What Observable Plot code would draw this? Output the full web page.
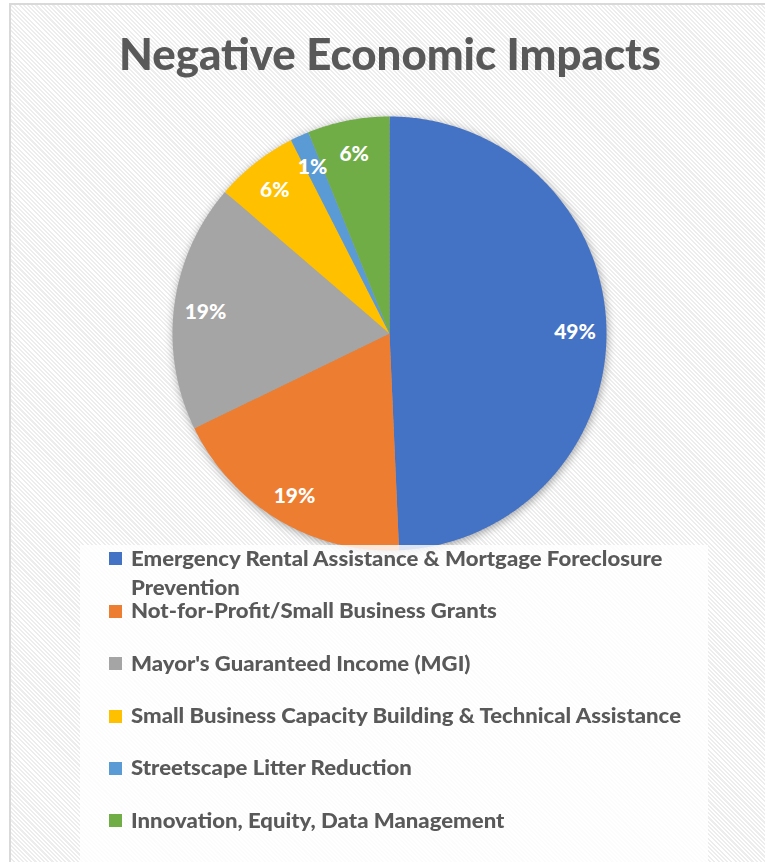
<!DOCTYPE html>
<html>
<head>
<meta charset="utf-8">
<script src="https://cdn.jsdelivr.net/npm/d3@7"></script>
<script src="https://cdn.jsdelivr.net/npm/@observablehq/plot@0.6"></script>
<style>
  html, body { margin: 0; padding: 0; width: 765px; height: 862px; overflow: hidden; background: #fff; }
  #frame {
    position: absolute; left: 9px; top: 3px; width: 820px; height: 920px;
    border-left: 2px solid #d9d9d9; border-top: 2px solid #d9d9d9;
    background: repeating-linear-gradient(45deg, #ffffff 0px, #ffffff 1.5px, #ededed 1.5px, #ededed 3px);
  }
  #title {
    position: absolute; left: 0; top: 32px; text-align: left;
    font-family: Lato, sans-serif; font-weight: 900; font-size: 43px; line-height: 1;
    color: #595959; white-space: nowrap; transform-origin: 0 0;
  }
  #chart { position: absolute; left: 0; top: 0; }
  #legend {
    position: absolute; left: 80px; top: 545px; width: 628px; height: 330px;
    background: rgba(255,255,255,0.82);
  }
  .item { position: absolute; left: 0; width: 628px; height: 60px; }
  .sw { position: absolute; left: 29px; top: 8.5px; width: 13px; height: 13px; }
  .lab {
    position: absolute; left: 50.7px; top: 0;
    font-family: Lato, sans-serif; font-weight: 900; font-size: 20px; line-height: 29px;
    color: #595959; white-space: normal; transform-origin: 0 0;
  }
  #measure { position: absolute; visibility: hidden; white-space: nowrap; font-family: Lato, sans-serif; font-weight: 900; }
</style>
</head>
<body>
<div id="frame"></div>
<div id="chart"></div>
<div id="title"></div>
<div id="legend"></div>
<span id="measure"></span>
<script>
// ---- data ----
const chartTitle = "Negative Economic Impacts";
const categories = [
  "Emergency Rental Assistance & Mortgage Foreclosure Prevention",
  "Not-for-Profit/Small Business Grants",
  "Mayor's Guaranteed Income (MGI)",
  "Small Business Capacity Building & Technical Assistance",
  "Streetscape Litter Reduction",
  "Innovation, Equity, Data Management"
];
const values = [49.3, 18.5, 18.5, 6.2, 1.4, 6.1];
const colors = ["#4472C4", "#ED7D31", "#A5A5A5", "#FFC000", "#5B9BD5", "#70AD47"];

// ---- build slice outlines from the values ----
const total = d3.sum(values);
const pts = [];
const labels = [];
let acc = 0;
values.forEach((v, i) => {
  const a0 = acc / total * 2 * Math.PI;
  acc += v;
  const a1 = acc / total * 2 * Math.PI;
  pts.push({cat: categories[i], x: 0, y: 0});
  const n = Math.max(2, Math.ceil((a1 - a0) / (Math.PI / 360)));
  for (let k = 0; k <= n; k++) {
    const a = a0 + (a1 - a0) * k / n;
    pts.push({cat: categories[i], x: Math.sin(a), y: Math.cos(a)});
  }
  pts.push({cat: categories[i], x: 0, y: 0});
  const am = (a0 + a1) / 2;
  const lr = 0.855;
  labels.push({cat: categories[i], x: lr * Math.sin(am), y: lr * Math.cos(am), text: Math.round(v / total * 100) + "%"});
});

const plot = Plot.plot({
  width: 765,
  height: 862,
  margin: 0,
  style: {background: "transparent", overflow: "visible"},
  x: {domain: [-1, 1], range: [172, 606], axis: null},
  y: {domain: [-1, 1], range: [550, 116], axis: null},
  color: {domain: categories, range: colors},
  marks: [
    Plot.line(pts, {x: "x", y: "y", z: "cat", fill: "cat", stroke: "none"}),
    Plot.text(labels, {x: "x", y: "y", dy: 3, text: "text", fill: "white", fontSize: 21, fontWeight: 900, fontFamily: "Lato, sans-serif"})
  ]
});
document.getElementById("chart").appendChild(plot);
const lineG = plot.querySelector('g[aria-label="line"]');
if (lineG) lineG.style.filter = "drop-shadow(1px 2px 4px rgba(0,0,0,0.35))";

// title, scaled to the reference's width and centred
const title = document.getElementById("title");
title.textContent = chartTitle;
const tw = title.getBoundingClientRect().width;
const tTarget = 542, tCenter = 390;
const tf = tTarget / tw;
title.style.transform = `scaleX(${tf})`;
title.style.left = (tCenter - tTarget / 2) + "px";

// legend
const meas = document.getElementById("measure");
meas.style.fontSize = "20px";
meas.textContent = categories[3];
const lf = 550 / meas.getBoundingClientRect().width;
const legend = document.getElementById("legend");
categories.forEach((c, i) => {
  const item = document.createElement("div");
  item.className = "item";
  item.style.top = (-1.2 + i * 52.4) + "px";
  const sw = document.createElement("div");
  sw.className = "sw";
  sw.style.background = colors[i];
  const lab = document.createElement("div");
  lab.className = "lab";
  lab.textContent = c;
  lab.style.width = (572 / lf) + "px";
  lab.style.transform = `scaleX(${lf})`;
  item.appendChild(sw);
  item.appendChild(lab);
  legend.appendChild(item);
});
</script>
</body>
</html>
